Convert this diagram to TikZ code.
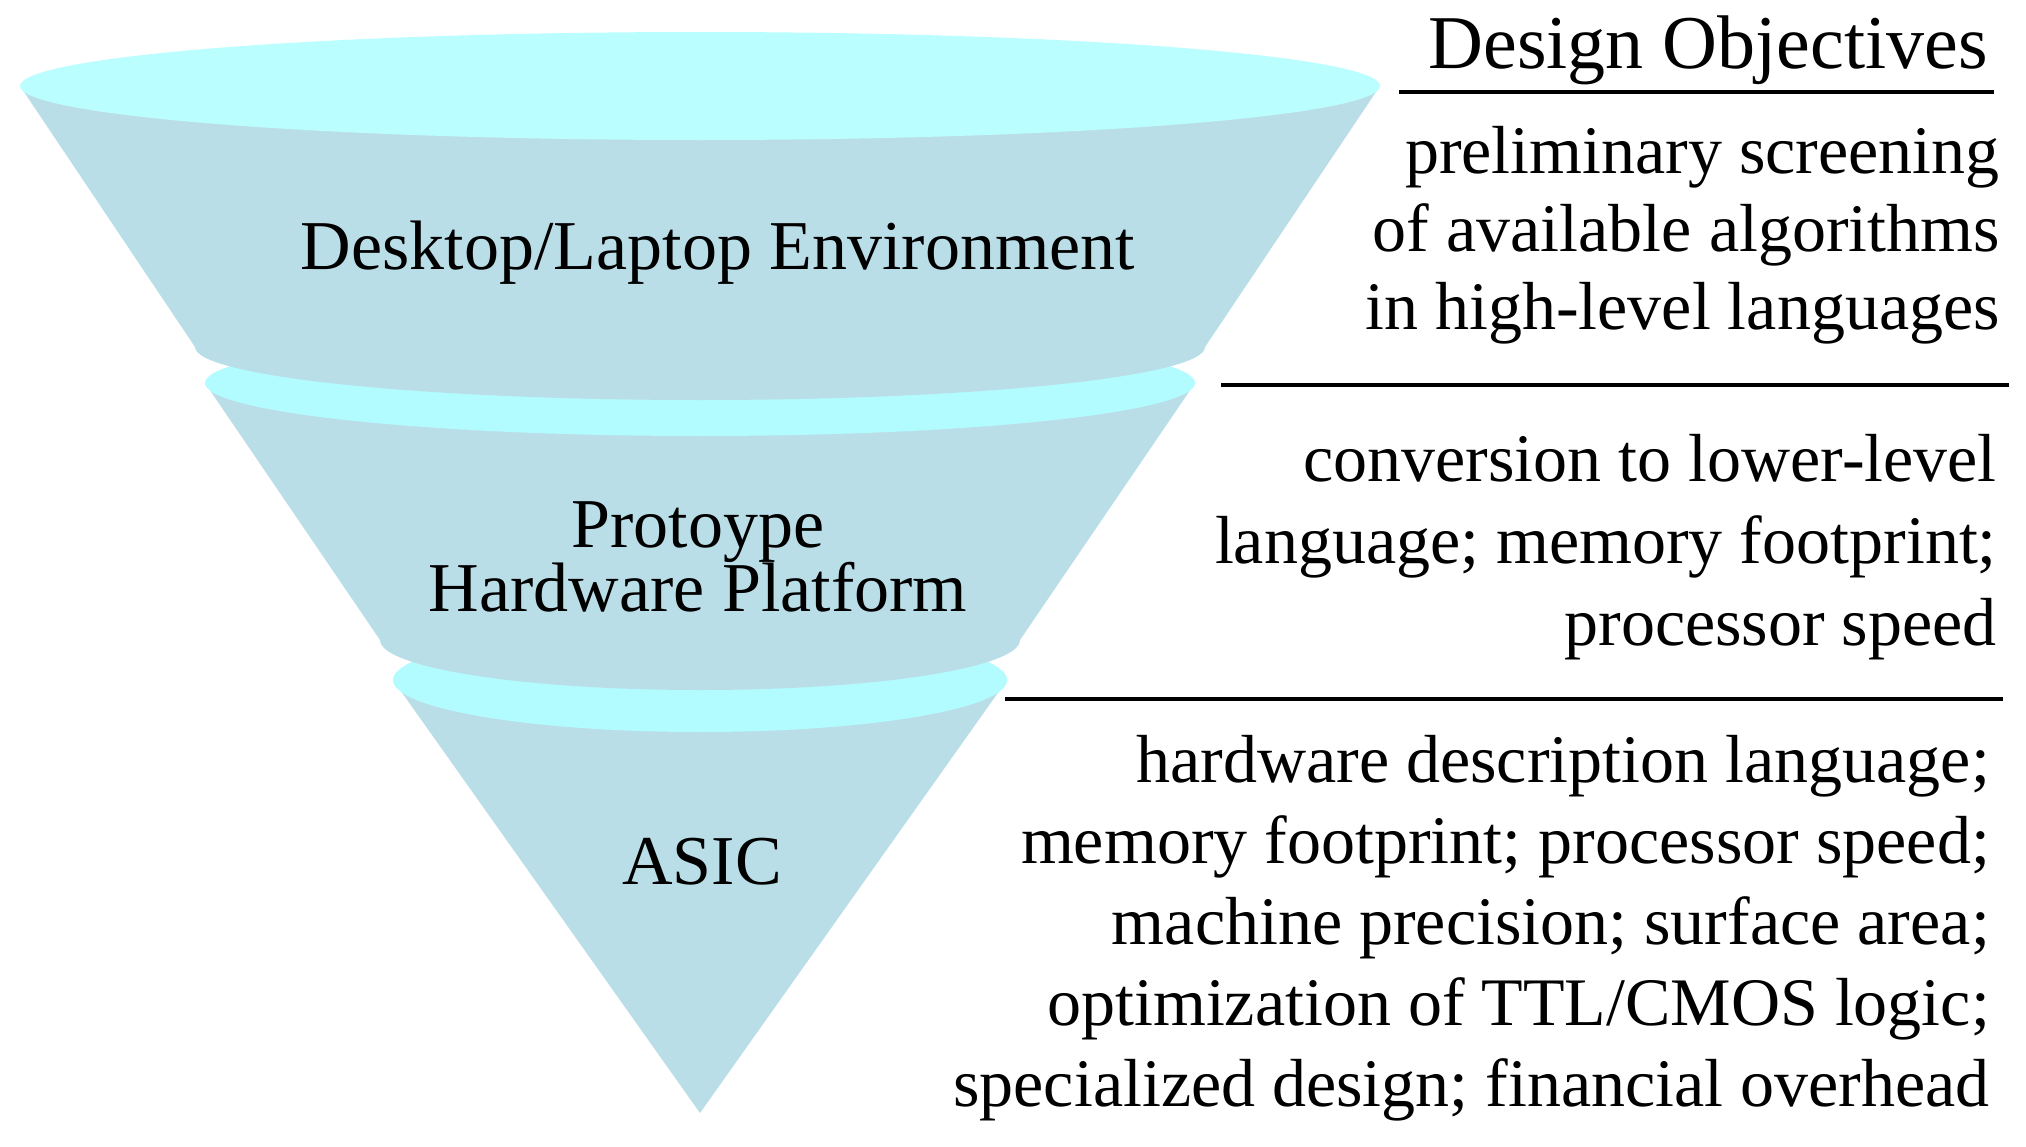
\documentclass[tikz,border=0pt]{standalone}
\usepackage{fontspec}
\setmainfont{Liberation Serif}
\newcommand\tightlns{\lineskiplimit -1000pt\relax}
\definecolor{bodyblue}{RGB}{186,222,232}
\definecolor{capcyan}{RGB}{178,251,254}
\definecolor{topcyan}{RGB}{186,254,255}
\tikzset{
  conebody/.style={fill=bodyblue, draw=none},
  ringcap/.style={fill=capcyan, draw=none},
  topcap/.style={fill=topcyan, draw=none},
  lbl/.style={inner sep=0pt, font={\fontsize{70}{64}\selectfont\tightlns}, align=center},
  objtext/.style={inner sep=0pt, anchor=east, align=right},
  rule/.style={line width=4pt, black}
}
\begin{document}
\begin{tikzpicture}[x=1pt,y=1pt]
\useasboundingbox (0,0) rectangle (2026,-1146);
% segment 3 (ASIC)
\fill[conebody] (393,-680) -- (700,-1113) -- (1007,-680) -- cycle;
\fill[ringcap] (700,-680) ellipse [x radius=307, y radius=52];
% segment 2 (prototype)
\fill[conebody] (205,-383) -- (380,-640) arc [start angle=180, end angle=360, x radius=320, y radius=50] -- (1195,-383) -- cycle;
\fill[ringcap] (700,-383) ellipse [x radius=495, y radius=53];
% segment 1 (desktop)
\fill[conebody] (20,-86) -- (195,-347) arc [start angle=180, end angle=360, x radius=505, y radius=53] -- (1380,-86) -- cycle;
\fill[topcap] (700,-86) ellipse [x radius=680, y radius=54];
% labels in cone
\node[lbl] (desk) at (718,-253) {Desktop/Laptop Environment};
\node[lbl] (proto) at (698,-557) {Protoype\\Hardware Platform};
\node[lbl] (asic) at (702,-862) {ASIC};
% right column
\node[objtext, font={\fontsize{76}{78}\selectfont}] (head) at (1988,-50) {Design Objectives};
\draw[rule] (1399,-92) -- (1994,-92);
\node[objtext, font={\fontsize{68}{78}\selectfont\tightlns}] (obj1) at (2000,-235) {preliminary screening\\of available algorithms\\in high-level languages};
\draw[rule] (1221,-385) -- (2009,-385);
\node[objtext, font={\fontsize{68}{82}\selectfont\tightlns}] (obj2) at (1997,-547) {conversion to lower-level\\language; memory footprint;\\processor speed};
\draw[rule] (1005,-699) -- (2003,-699);
\node[objtext, font={\fontsize{68}{81}\selectfont\tightlns}] (obj3) at (1990,-928) {hardware description language;\\memory footprint; processor speed;\\machine precision; surface area;\\optimization of TTL/CMOS logic;\\specialized design; financial overhead};
\end{tikzpicture}
\end{document}
